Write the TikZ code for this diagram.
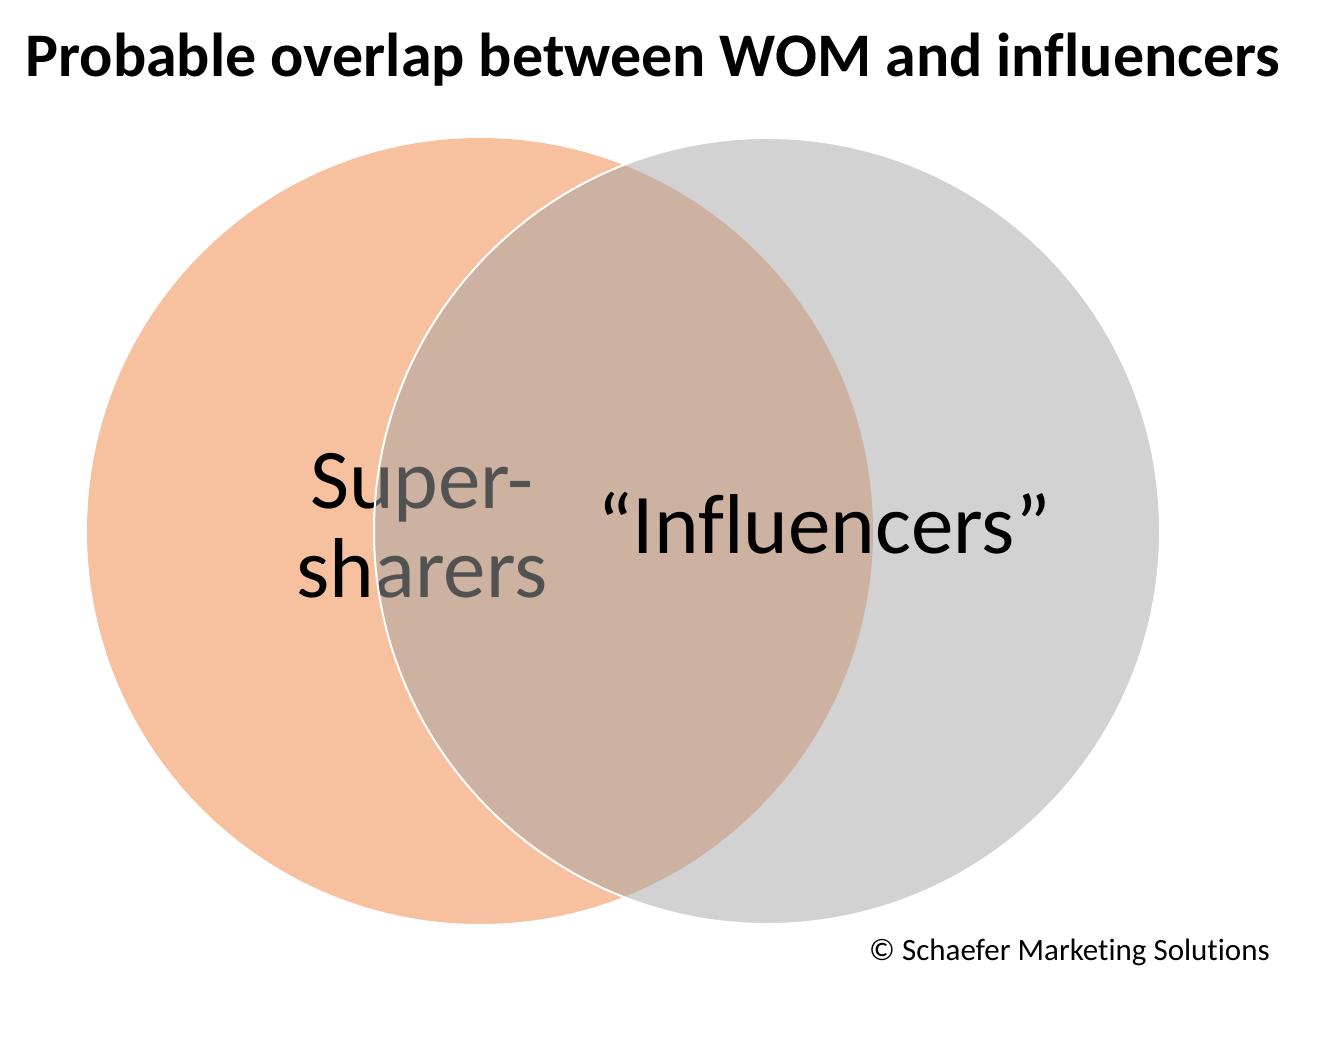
\documentclass[tikz,border=0pt]{standalone}
\usepackage{fontspec}
\setmainfont[Ligatures=NoCommon]{Carlito}
\usetikzlibrary{positioning}
\definecolor{WomOrange}{RGB}{247,192,158}
\definecolor{InflGray}{RGB}{165,165,165}

\begin{document}
\begin{tikzpicture}[
        %Environment config
        x=1pt, y=-1pt,
        %Environment styles
        CircleCfg/.style={
            circle,
            minimum size=786pt,
            inner sep=0pt
        },
        LabelCfg/.style={
            font=\fontsize{85}{89}\selectfont,
            align=center,
            inner sep=0pt
        }
    ]
    \useasboundingbox (0,0) rectangle (1340,1040);

    \node[anchor=base, inner sep=0pt, font=\bfseries\fontsize{62}{64}\selectfont]
        (Title) at (653,77) {Probable overlap between WOM and influencers};

    \node[CircleCfg, fill=WomOrange] (WOM) at (480,531) {};

    \node[LabelCfg] (SUP) at (422,526) {Super-\\sharers};

    \node[CircleCfg, fill=InflGray, fill opacity=0.5, draw=white, line width=2pt]
        (INF) at (767,531) {};

    \node[LabelCfg, anchor=base] (INFL) at (824,553) {“Influencers”};

    \node[anchor=base east, inner sep=0pt, font=\fontsize{31}{33}\selectfont]
        (COPY) at (1270,960) {© Schaefer Marketing Solutions};
\end{tikzpicture}
\end{document}
